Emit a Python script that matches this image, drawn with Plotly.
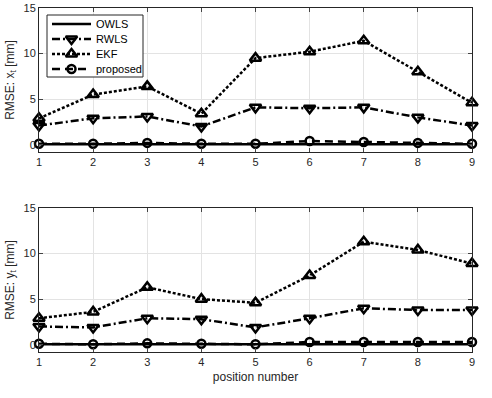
import plotly.graph_objects as go
from plotly.subplots import make_subplots

positions = [1, 2, 3, 4, 5, 6, 7, 8, 9]

# RMSE x_t [mm]
owls_x = [0.05, 0.05, 0.05, 0.05, 0.05, 0.05, 0.05, 0.05, 0.05]
rwls_x = [2.1, 2.9, 3.1, 2.0, 4.1, 4.0, 4.1, 3.0, 2.1]
ekf_x = [2.9, 5.5, 6.4, 3.4, 9.5, 10.2, 11.4, 8.0, 4.6]
prop_x = [0.1, 0.1, 0.2, 0.1, 0.1, 0.4, 0.3, 0.2, 0.1]

# RMSE y_t [mm]
owls_y = [0.05, 0.05, 0.05, 0.05, 0.05, 0.05, 0.05, 0.05, 0.05]
rwls_y = [2.0, 1.9, 2.9, 2.8, 1.9, 2.9, 4.0, 3.8, 3.8]
ekf_y = [2.9, 3.6, 6.3, 5.0, 4.6, 7.6, 11.3, 10.4, 8.9]
prop_y = [0.1, 0.05, 0.15, 0.1, 0.05, 0.3, 0.3, 0.3, 0.3]

series_names = ["OWLS", "RWLS", "EKF", "proposed"]
y_ticks = [0, 5, 10, 15]

styles = [
    dict(dash="solid", symbol=None, size=0),
    dict(dash="8px,3px,2px,3px", symbol="triangle-down-open", size=10),
    dict(dash="3px,2px", symbol="triangle-up-open", size=10),
    dict(dash="8px,5px", symbol="circle-open", size=8),
]

ink = "#000000"
axis_color = "#262626"
family = "Liberation Sans, Arial, sans-serif"
font = dict(family=family, size=11, color=axis_color)
LW = 2.5

fig = make_subplots(rows=2, cols=1, vertical_spacing=0.0)

data_rows = [
    [owls_x, rwls_x, ekf_x, prop_x],
    [owls_y, rwls_y, ekf_y, prop_y],
]

for r, rowdata in enumerate(data_rows, start=1):
    for name, vals, st in zip(series_names, rowdata, styles):
        mode = "lines" if st["symbol"] is None else "lines+markers"
        kw = dict(
            x=positions, y=vals, name=name, mode=mode,
            line=dict(color=ink, width=LW, dash=st["dash"]),
            showlegend=False, cliponaxis=False,
        )
        if st["symbol"] is not None:
            kw["marker"] = dict(symbol=st["symbol"], size=st["size"],
                                color=ink, line=dict(color=ink, width=LW))
        fig.add_trace(go.Scatter(**kw), row=r, col=1)

tick_font = dict(family=family, size=11, color=axis_color)
for r in (1, 2):
    fig.update_xaxes(range=[1, 9], tickvals=positions, ticks="inside", ticklen=4,
                     showline=True, linecolor=axis_color, linewidth=1, mirror="ticks",
                     showgrid=True, gridcolor="#e3e3e3", gridwidth=1, zeroline=False,
                     tickfont=tick_font, automargin=False, row=r, col=1)
    fig.update_yaxes(range=[-0.8, 15], tickvals=y_ticks, ticks="inside", ticklen=4,
                     showline=True, linecolor=axis_color, linewidth=1, mirror="ticks",
                     showgrid=True, gridcolor="#e3e3e3", gridwidth=1, zeroline=False,
                     tickfont=tick_font, automargin=False, row=r, col=1)

title_font = dict(family=family, size=12, color=axis_color)
fig.update_yaxes(title=dict(text="RMSE: x<sub>t</sub> [mm]", font=title_font, standoff=6), row=1, col=1)
fig.update_yaxes(title=dict(text="RMSE: y<sub>t</sub> [mm]", font=title_font, standoff=6), row=2, col=1)
fig.update_xaxes(title=dict(text="position number", font=title_font, standoff=5), row=2, col=1)

# ---- custom compact legend drawn on an overlay axis in pixel units ----
leg_x0, leg_x1, leg_y0, leg_y1 = 8, 104, 7, 69
row_y = [16, 31, 46, 61]
sample_x = [13, 52]
marker_x = 32.5
text_x = 55

fig.add_trace(go.Scatter(
    x=[leg_x0, leg_x1, leg_x1, leg_x0, leg_x0],
    y=[leg_y0, leg_y0, leg_y1, leg_y1, leg_y0],
    mode="lines", fill="toself", fillcolor="white",
    line=dict(color=axis_color, width=1), showlegend=False, hoverinfo="skip",
    xaxis="x3", yaxis="y3"))

for name, st, yy in zip(series_names, styles, row_y):
    fig.add_trace(go.Scatter(
        x=sample_x, y=[yy, yy], mode="lines",
        line=dict(color=ink, width=LW, dash=st["dash"]),
        showlegend=False, hoverinfo="skip", xaxis="x3", yaxis="y3"))
    if st["symbol"] is not None:
        fig.add_trace(go.Scatter(
            x=[marker_x], y=[yy], mode="markers",
            marker=dict(symbol=st["symbol"], size=st["size"], color=ink,
                        line=dict(color=ink, width=LW)),
            showlegend=False, hoverinfo="skip", xaxis="x3", yaxis="y3"))
    fig.add_annotation(x=text_x, y=yy, xref="x3", yref="y3", text=name,
                       showarrow=False, xanchor="left", yanchor="middle",
                       font=dict(family=family, size=11, color=ink))

fig.update_layout(
    width=492, height=398,
    margin=dict(l=39, r=20, t=8, b=46),
    paper_bgcolor="white", plot_bgcolor="rgba(0,0,0,0)",
    font=font,
    showlegend=False,
    yaxis=dict(domain=[0.5814, 1.0]),
    yaxis2=dict(domain=[0.0, 0.4186]),
    xaxis3=dict(domain=[0, 1], range=[0, 433], visible=False, fixedrange=True,
                showgrid=False, anchor="y3"),
    yaxis3=dict(domain=[0, 1], range=[344, 0], visible=False, fixedrange=True,
                showgrid=False, anchor="x3"),
)

fig.write_html("out.html", config={"displayModeBar": False},
               post_script="document.body.style.margin='0';")
